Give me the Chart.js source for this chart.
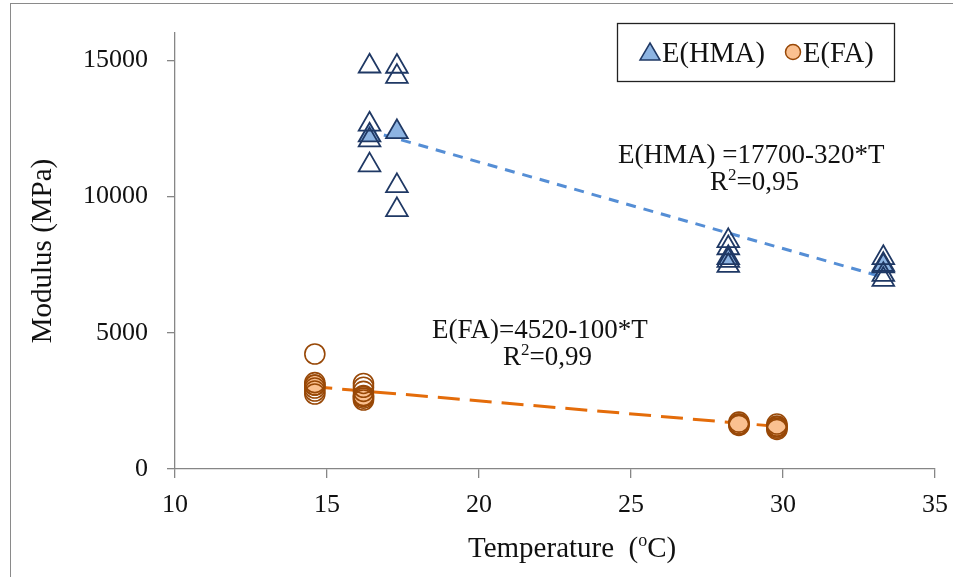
<!DOCTYPE html>
<html lang="en">
<head>
<meta charset="UTF-8">
<title>Modulus vs Temperature</title>
<style>
  html, body { margin: 0; padding: 0; background: #fff; }
  #wrap { position: relative; width: 953px; height: 577px; }
</style>
</head>
<body>
<div id="wrap"><canvas id="chart" width="953" height="577"></canvas></div>

<script src="https://cdn.jsdelivr.net/npm/chart.js"></script>
<script>
  // individual measurements (open markers)
  const hmaTemp    = [16.4, 16.4, 16.4, 16.4, 17.3, 17.3, 17.3, 17.3, 28.2, 28.2, 28.2, 28.2, 33.3, 33.3, 33.3, 33.3];
  const hmaModulus = [14780, 12650, 12070, 11150, 14770, 14400, 10390, 9510, 8370, 8110, 7650, 7460, 7750, 7500, 7130, 6950];
  const faTemp     = [14.6, 14.6, 14.6, 14.6, 14.6, 14.6, 16.2, 16.2, 16.2, 16.2, 16.2, 16.2, 28.55, 28.55, 28.55, 29.8, 29.8, 29.8, 29.8];
  const faModulus  = [4220, 3170, 3080, 2970, 2860, 2750, 3140, 3000, 2850, 2700, 2600, 2530, 1720, 1650, 1600, 1650, 1580, 1500, 1450];

  // averages (filled markers, shown in legend)
  const hmaMeanTemp    = [16.4, 17.3, 28.2, 33.3];
  const hmaMeanModulus = [12250, 12370, 7750, 7450];
  const faMeanTemp     = [14.6, 16.2, 28.55, 29.8];
  const faMeanModulus  = [3080, 2660, 1650, 1550];

  // trend line end points
  const hmaTrendTemp    = [16.3, 33.3];
  const hmaTrendModulus = [12440, 7040];
  const faTrendTemp     = [14.45, 29.85];
  const faTrendModulus  = [3030, 1560];

  const xTicks = [10, 15, 20, 25, 30, 35];
  const yTicks = [0, 5000, 10000, 15000];

  const pts = (xs, ys) => xs.map((x, i) => ({ x: x, y: ys[i] }));

  const serif = "'Liberation Serif', 'Times New Roman', serif";
  const navy = '#1F3864';
  const brown = '#984807';

  // extra text, frame and legend box
  const extras = {
    id: 'extras',
    afterDraw(chart) {
      const c = chart.ctx;
      c.save();

      // outer frame
      c.strokeStyle = '#8a8a8a';
      c.lineWidth = 1;
      c.strokeRect(10.5, 3.5, 1000, 700);

      c.fillStyle = '#111';
      c.textBaseline = 'alphabetic';

      // y title
      c.font = '29px ' + serif;
      c.save();
      c.translate(51, 251);
      c.rotate(-Math.PI / 2);
      c.textAlign = 'center';
      c.fillText('Modulus (MPa)', 0, 0);
      c.restore();

      // x title with superscript o
      c.textAlign = 'left';
      let x = 468;
      const base = 557;
      c.fillText('Temperature  (', x, base);
      x += c.measureText('Temperature  (').width;
      c.font = '18px ' + serif;
      c.fillText('o', x, base - 11);
      x += c.measureText('o').width;
      c.font = '29px ' + serif;
      c.fillText('C)', x, base);

      // regression equations
      const eq = (txt, left, y) => {
        c.font = '27px ' + serif;
        c.fillText(txt, left, y);
      };
      const r2 = (val, left, y) => {
        c.font = '27px ' + serif;
        c.fillText('R', left, y);
        let xx = left + c.measureText('R').width;
        c.font = '17px ' + serif;
        c.fillText('2', xx, y - 10);
        xx += c.measureText('2').width;
        c.font = '27px ' + serif;
        c.fillText('=' + val, xx, y);
      };
      eq('E(HMA) =17700-320*T', 618, 163);
      r2('0,95', 710, 190);
      eq('E(FA)=4520-100*T', 432, 338);
      r2('0,99', 503, 365);

      // legend
      c.strokeStyle = '#222';
      c.lineWidth = 1.3;
      c.strokeRect(617.5, 23.5, 277, 58);

      // triangle
      c.beginPath();
      c.moveTo(650, 43);
      c.lineTo(660, 60);
      c.lineTo(640, 60);
      c.closePath();
      c.fillStyle = '#8DB4E2';
      c.fill();
      c.strokeStyle = navy;
      c.lineWidth = 1.5;
      c.stroke();

      // circle
      c.beginPath();
      c.arc(793, 52, 7.5, 0, Math.PI * 2);
      c.fillStyle = '#FAC090';
      c.fill();
      c.strokeStyle = brown;
      c.stroke();

      c.fillStyle = '#111';
      c.font = '28.5px ' + serif;
      c.fillText('E(HMA)', 662, 62);
      c.fillText('E(FA)', 803, 62);

      c.restore();
    }
  };

  new Chart(document.getElementById('chart'), {
    type: 'scatter',
    data: {
      datasets: [
        {
          label: 'E(HMA) data',
          data: pts(hmaTemp, hmaModulus),
          pointStyle: 'triangle',
          pointRadius: 12.5,
          borderColor: navy,
          backgroundColor: 'rgba(0,0,0,0)',
          borderWidth: 1.8
        },
        {
          label: 'E(FA) data',
          data: pts(faTemp, faModulus),
          pointStyle: 'circle',
          pointRadius: 10,
          borderColor: brown,
          backgroundColor: 'rgba(0,0,0,0)',
          borderWidth: 1.6
        },
        {
          label: 'E(HMA)',
          data: pts(hmaMeanTemp, hmaMeanModulus),
          pointStyle: 'triangle',
          pointRadius: 12.5,
          borderColor: navy,
          backgroundColor: '#8DB4E2',
          borderWidth: 1.8
        },
        {
          label: 'E(FA)',
          data: pts(faMeanTemp, faMeanModulus),
          pointStyle: 'circle',
          pointRadius: 10,
          borderColor: brown,
          backgroundColor: '#FAC090',
          borderWidth: 1.6
        },
        {
          label: 'HMA trend',
          data: pts(hmaTrendTemp, hmaTrendModulus),
          showLine: true,
          pointRadius: 0,
          borderColor: '#558ED5',
          borderWidth: 3,
          borderDash: [10, 8]
        },
        {
          label: 'FA trend',
          data: pts(faTrendTemp, faTrendModulus),
          showLine: true,
          pointRadius: 0,
          borderColor: '#E46C0A',
          borderWidth: 3,
          borderDash: [22, 10]
        }
      ]
    },
    options: {
      responsive: false,
      animation: false,
      layout: { padding: { top: 33, right: 18, left: 0, bottom: 0 } },
      plugins: {
        legend: { display: false },
        tooltip: { enabled: false }
      },
      scales: {
        x: {
          type: 'linear',
          min: 10,
          max: 35,
          afterFit(s) {
            s.height = 108;
            s.paddingLeft = 0;
            s.paddingRight = 0;
          },
          afterBuildTicks(s) { s.ticks = xTicks.map(v => ({ value: v })); },
          border: { color: '#868686', width: 1.3 },
          grid: { drawOnChartArea: false, drawTicks: true, tickLength: 9, color: '#868686', lineWidth: 1.3 },
          ticks: { color: '#111', padding: 12, font: { family: serif, size: 26 }, callback: v => String(v) }
        },
        y: {
          min: 0,
          max: 16000,
          afterFit(s) {
            s.width = 175;
            s.paddingTop = 0;
            s.paddingBottom = 0;
          },
          afterBuildTicks(s) { s.ticks = yTicks.map(v => ({ value: v })); },
          border: { color: '#868686', width: 1.3 },
          grid: { drawOnChartArea: false, drawTicks: true, tickLength: 8, color: '#868686', lineWidth: 1.3 },
          ticks: { color: '#111', padding: 19, font: { family: serif, size: 26 }, callback: v => String(v) }
        }
      }
    },
    plugins: [extras]
  });
</script>
</body>
</html>
